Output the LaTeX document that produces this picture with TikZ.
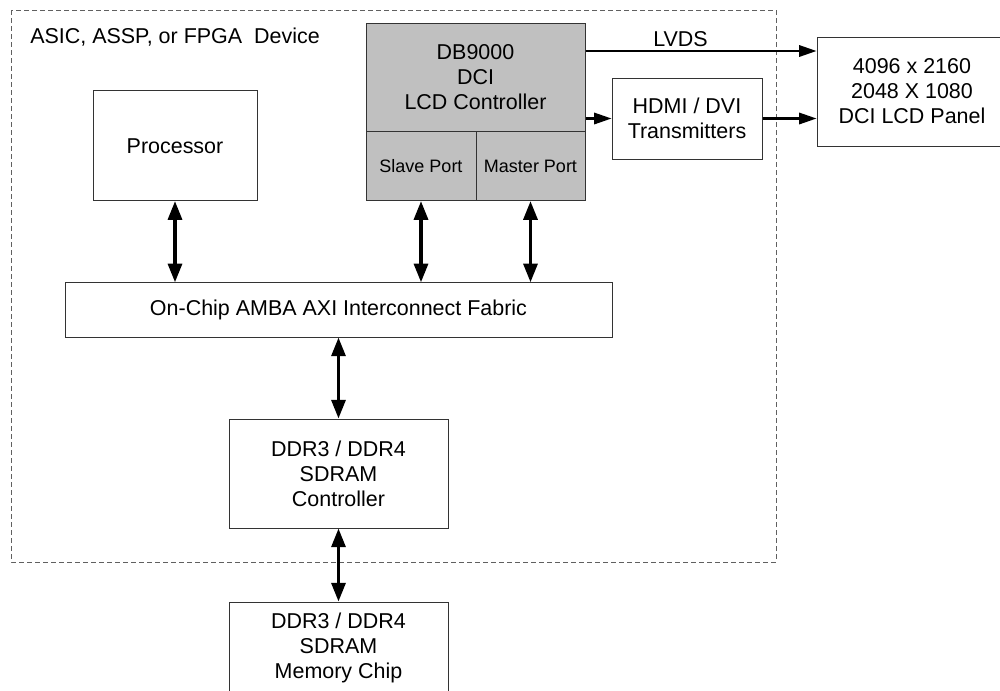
\documentclass[tikz,border=0pt]{standalone}
\usepackage{fontspec}
\setmainfont{Liberation Sans}
\usetikzlibrary{arrows.meta}

\tikzset{
  blk/.style={draw=black!80, line width=0.75pt, inner sep=0pt, align=center,
    font=\fontsize{16.1}{18.75}\selectfont},
  portblk/.style={blk, fill={rgb, 255:red, 192; green, 192; blue, 192}},
  lbl/.style={inner sep=0pt, font=\fontsize{16.1}{18.75}\selectfont},
  bus/.style={{Triangle[length=14pt,width=10.5pt]}-{Triangle[length=14pt,width=10.5pt]}, line width=2.4pt},
  sig/.style={-{Triangle[length=13pt,width=8.5pt]}, line width=1.6pt},
}

\begin{document}
\begin{tikzpicture}[x=0.75pt,y=0.75pt,yscale=-1,xscale=1]
%set diagram: 1000 x 690
\clip (0,0) rectangle (1000,690);

%Dashed Rectangle [device border]
\draw [color={rgb, 255:red, 96; green, 96; blue, 96 }, line width=0.75pt, dash pattern={on 3.75pt off 2.25pt}] (11,10) rectangle (776,562);
% Text Node
\node [lbl, anchor=base west] (device) at (30,43.3) {ASIC, ASSP, or FPGA\ \ Device};

%Shape: Rectangle [processor]
\node [blk, minimum width=123pt, minimum height=82.3pt] (proc) at (175,145.8) {Processor};
%Shape: Rectangle [lcd controller]
\node [portblk, minimum width=164.25pt, minimum height=81.75pt] (ctrl) at (475.5,77.5) {DB9000\\DCI\\LCD Controller};
\node [portblk, minimum width=82.5pt, minimum height=51.5pt, font=\fontsize{13.5}{16}\selectfont] (slave) at (421,166.3) {Slave Port};
\node [portblk, minimum width=81.75pt, minimum height=51.5pt, font=\fontsize{13.5}{16}\selectfont] (master) at (530.5,166.3) {Master Port};
%Shape: Rectangle [interconnect]
\node [blk, minimum width=410.25pt, minimum height=40.7pt] (fabric) at (338.5,309.9) {On-Chip AMBA AXI Interconnect Fabric};
%Shape: Rectangle [sdram controller]
\node [blk, minimum width=164.25pt, minimum height=81.75pt] (ddrc) at (338.5,473.5) {DDR3 / DDR4\\SDRAM\\Controller};
%Shape: Rectangle [memory chip]
\node [blk, minimum width=164.25pt, minimum height=69pt] (mem) at (338.5,648) {DDR3 / DDR4\\SDRAM\\Memory Chip};
%Shape: Rectangle [transmitters]
\node [blk, minimum width=112.5pt, minimum height=60.75pt] (hdmi) at (687,118.5) {HDMI / DVI\\Transmitters};
%Shape: Rectangle [panel]
\node [blk, minimum width=142.5pt, minimum height=81.75pt] (panel) at (912,91.5) {4096 x 2160\\2048 X 1080\\DCI LCD Panel};

%Double Arrows [buses]
\draw [bus] (proc.south) -- (proc.south |- fabric.north);
\draw [bus] (slave.south) -- (slave.south |- fabric.north);
\draw [bus] (master.south) -- (master.south |- fabric.north);
\draw [bus] (fabric.south -| ddrc.north) -- (ddrc.north);
\draw [bus] (ddrc.south) -- (mem.north);

%Arrows [video outputs]
\coordinate (lvdsrow) at (600,51);
\draw [sig] (ctrl.east |- lvdsrow) -- (panel.west |- lvdsrow);
% Text Node
\node [lbl] (lvds) at (680.5,39.5) {LVDS};
\draw [sig] (ctrl.east |- hdmi.west) -- (hdmi.west);
\draw [sig] (hdmi.east) -- (hdmi.east -| panel.west);

\end{tikzpicture}
\end{document}
